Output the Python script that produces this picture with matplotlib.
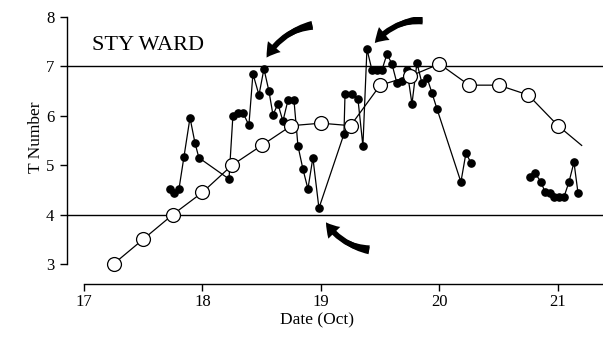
import numpy as np
import matplotlib
matplotlib.use("Agg")
import matplotlib.pyplot as plt
from matplotlib.patches import FancyArrowPatch

plt.rcParams['font.family'] = ['Liberation Serif', 'DejaVu Serif']

# --- T-number from the 6-hourly best track (open circles) ---
track_x = [17.25, 17.5, 17.75, 18.0, 18.25, 18.5, 18.75, 19.0, 19.25,
           19.5, 19.75, 20.0, 20.25, 20.5, 20.75, 21.0, 21.2]
track_t = [3.0, 3.5, 4.0, 4.45, 5.0, 5.4, 5.8, 5.85, 5.8,
           6.62, 6.8, 7.05, 6.62, 6.62, 6.42, 5.8, 5.4]

# --- hourly objective estimates (filled dots), two runs ---
run1_x = [17.726, 17.759, 17.802, 17.844, 17.895, 17.937, 17.970, 18.224,
          18.257, 18.300, 18.342, 18.392, 18.426, 18.477, 18.519, 18.561,
          18.595, 18.637, 18.679, 18.722, 18.772, 18.806, 18.848, 18.890,
          18.932, 18.983, 19.194, 19.203, 19.262, 19.312, 19.354, 19.388,
          19.430, 19.473, 19.515, 19.557, 19.599, 19.641, 19.684, 19.726,
          19.768, 19.810, 19.852, 19.895, 19.937, 19.979, 20.181, 20.224,
          20.266]
run1_t = [4.52, 4.44, 4.52, 5.17, 5.96, 5.45, 5.15, 4.72,
          6.00, 6.06, 6.06, 5.81, 6.85, 6.42, 6.95, 6.50,
          6.02, 6.24, 5.89, 6.32, 6.32, 5.39, 4.92, 4.52,
          5.15, 4.13, 5.63, 6.44, 6.44, 6.34, 5.39, 7.35,
          6.93, 6.93, 6.93, 7.25, 7.05, 6.66, 6.70, 6.93,
          6.24, 7.07, 6.66, 6.77, 6.46, 6.14, 4.66, 5.25,
          5.04]
run2_x = [20.764, 20.806, 20.857, 20.890, 20.932, 20.966, 21.008, 21.051,
          21.093, 21.135, 21.169]
run2_t = [4.76, 4.84, 4.66, 4.46, 4.44, 4.36, 4.36, 4.36,
          4.66, 5.06, 4.44]

y_ticks = [3, 4, 5, 6, 7, 8]
x_ticks = [17, 18, 19, 20, 21]
ref_levels = [4, 7]

fig = plt.figure(figsize=(6.03, 3.37), dpi=100)
ax = fig.add_axes([0.1111, 0.1573, 0.8889, 0.7923])
ax.set_xlim(16.857, 21.38)
ax.set_ylim(2.595, 8.0)

for lv in ref_levels:
    ax.axhline(lv, color='black', lw=1.0, zorder=1)

ax.plot(run1_x, run1_t, '-o', color='black', lw=0.9, ms=5.2, zorder=3)
ax.plot(run2_x, run2_t, '-o', color='black', lw=0.9, ms=5.2, zorder=3)
ax.plot(track_x, track_t, '-o', color='black', lw=0.9, ms=10,
        mfc='white', mec='black', mew=0.9,
        markevery=list(range(len(track_x) - 1)), zorder=4)

ax.text(17.07, 7.42, 'STY WARD', fontsize=16, ha='left', va='center')

# curved pointer arrows: thin shaft with head, plus a wedge that widens to the tail
for tail, head, rad in [((18.95, 7.84), (18.53, 7.13), 0.25),
                        ((19.88, 7.94), (19.44, 7.43), 0.25),
                        ((19.43, 3.28), (19.03, 3.89), -0.25)]:
    arr = FancyArrowPatch(tail, head, connectionstyle=f'arc3,rad={rad}',
                          arrowstyle='simple,head_length=0.6,head_width=0.75,tail_width=0.25',
                          mutation_scale=16, color='black', lw=0, zorder=5)
    ax.add_patch(arr)
    wedge = FancyArrowPatch(tail, head, connectionstyle=f'arc3,rad={rad}',
                            arrowstyle='wedge,tail_width=0.4,shrink_factor=0.5',
                            mutation_scale=16, color='black', lw=0, zorder=5)
    ax.add_patch(wedge)

for s in ['top', 'right']:
    ax.spines[s].set_visible(False)
ax.spines['left'].set_bounds(3, 8)
ax.spines['bottom'].set_bounds(17, 21.38)
ax.spines['left'].set_linewidth(1.0)
ax.spines['bottom'].set_linewidth(1.0)

ax.set_yticks(y_ticks)
ax.set_xticks(x_ticks)
ax.tick_params(axis='both', direction='out', length=5, width=1.0, labelsize=12)
ax.tick_params(axis='y', pad=4)
ax.tick_params(axis='x', pad=2)

ax.set_ylabel('T Number', fontsize=12.5)
ax.yaxis.set_label_coords(-0.042, 0.55)
ax.set_xlabel('Date (Oct)', fontsize=12.5)
ax.xaxis.set_label_coords(0.466, -0.108)

fig.savefig('out.png', dpi=100)
